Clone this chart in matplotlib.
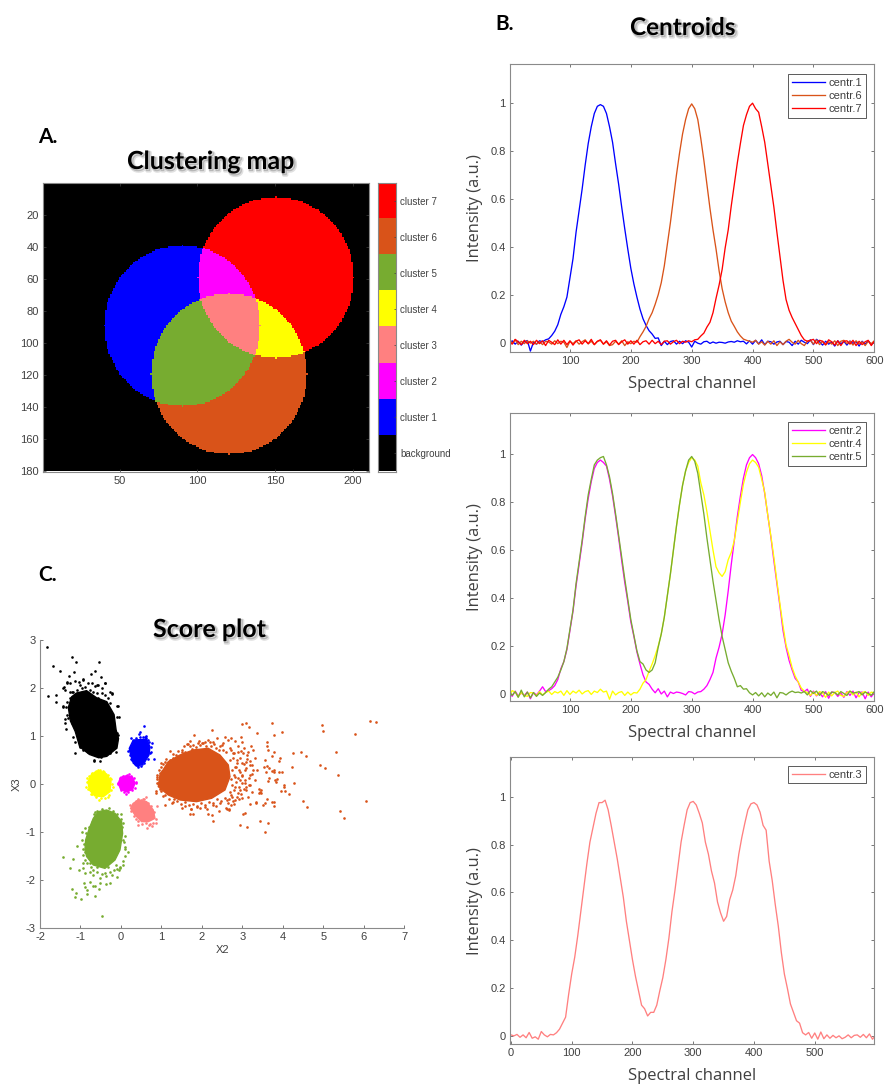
import numpy as np
import matplotlib
matplotlib.use('Agg')
import matplotlib.pyplot as plt
import matplotlib.patheffects as pe
from matplotlib.colors import ListedColormap

W, H = 885, 1084

BLUE = '#0000FF'
MAGENTA = '#FF00FF'
PINK = '#FF8080'
YELLOW = '#FFFF00'
GREEN = '#77AC30'
ORANGE = '#D95319'
RED = '#FF0000'

# ---- clustering map: the three discs (column, row, radius)
disc_blue = (90, 90, 50)
disc_red = (150, 60, 50)
disc_orange = (120, 120, 50)
map_cols = 210
map_rows = 180
cluster_labels = ['background', 'cluster 1', 'cluster 2', 'cluster 3',
                  'cluster 4', 'cluster 5', 'cluster 6', 'cluster 7']
cluster_colors = ['#000000', BLUE, MAGENTA, PINK, YELLOW, GREEN, ORANGE, RED]
map_xticks = [50, 100, 150, 200]
map_yticks = [20, 40, 60, 80, 100, 120, 140, 160, 180]

# ---- centroids, read every 5 channels
channels = list(range(0, 601, 5))

centr1 = [-.012, .008, -.006, .006, -.010, .004, .009, -.035, .002, -.006,
          .008, .004, .012, .016, .030, .048, .075, .118, .150, .190,
          .270, .350, .460, .550, .640, .740, .830, .900, .955, .985,
          .992, .985, .955, .900, .835, .745, .660, .565, .475, .390,
          .310, .245, .190, .140, .100, .072, .050, .036, .018, .020,
          -.012, .006, -.008, .005, .008, -.006, .006, -.004, .008, .002,
          -.018, .006, -.002, -.006, .004, .006, -.003, .003, -.002, .002,
          .001, -.002, .003, .005, .002, .008, .004, .006, -.005, .008,
          -.006, .010, -.005, .012, -.008, .006, .004, -.006, .003, .006,
          -.008, .005, .002, -.012, .006, -.006, .010, .002, -.004, .012,
          -.008, .014, .004, -.010, .006, -.006, .003, -.014, .008, -.005,
          .006, -.010, .007, -.003, .005, -.014, .006, -.006, .008, -.008,
          .004]
centr6 = [.018, -.004, .012, -.008, .006, -.004, .008, -.002, .006, -.006,
          .004, -.008, .006, .003, -.006, .008, -.004, .006, .002, -.020,
          .006, -.004, .008, -.006, .004, .012, -.005, .006, -.008, .005,
          .010, -.006, .004, -.012, -.008, .006, -.006, .008, -.012, .004,
          -.004, .006, .002, .025, .045, .068, .100, .125, .160, .200,
          .250, .320, .410, .500, .600, .700, .790, .870, .930, .975,
          .995, .975, .930, .850, .760, .660, .560, .470, .390, .300,
          .225, .170, .125, .090, .068, .045, .028, .015, .010, .006,
          .002, .010, -.006, .004, -.010, .006, -.006, .008, -.012, .004,
          -.008, .006, .014, .002, -.006, .010, -.004, -.012, .006, .010,
          -.006, .012, -.008, .006, -.010, .004, -.006, .008, -.012, .006,
          .010, -.004, .006, -.010, .008, -.006, .004, -.012, .006, -.004,
          .008]
centr7 = [.006, -.006, .014, .004, -.008, .010, -.004, .006, -.008, .010,
          -.004, .008, -.012, .010, .002, -.008, .012, -.006, .010, -.008,
          .008, -.010, .006, .012, -.006, .008, -.004, .014, -.008, .006,
          .012, -.006, .008, -.010, .006, .010, -.008, .004, .012, -.006,
          .008, -.006, .010, -.008, .004, .008, -.006, .010, -.004, .006,
          -.008, .006, .008, -.006, .004, .010, -.004, .006, .002, .008,
          .004, .012, .014, .028, .040, .065, .085, .125, .185, .240,
          .305, .395, .470, .570, .660, .750, .830, .905, .950, .985,
          .998, .975, .960, .900, .835, .745, .655, .565, .460, .360,
          .260, .180, .135, .105, .080, .055, .030, .012, .006, .010,
          .014, -.004, .010, .006, -.008, .012, .004, -.010, .008, -.012,
          .006, .008, -.006, .010, -.012, .006, -.008, .004, .010, -.012,
          .006]
centr2 = [.015, -.010, .012, -.008, .004, -.006, .008, -.020, .006, -.004,
          .012, .030, .010, .014, .022, .035, .060, .105, .135, .185,
          .265, .345, .450, .540, .630, .730, .815, .885, .940, .965,
          .975, .965, .950, .895, .825, .740, .650, .555, .465, .385,
          .300, .240, .175, .125, .080, .050, .040, .020, .005, .022,
          .000, .012, -.012, .008, .002, .008, .006, .002, -.004, .010,
          .008, .000, .008, .010, .020, .035, .060, .090, .150, .195,
          .250, .330, .430, .540, .640, .740, .825, .900, .955, .985,
          .998, .985, .960, .910, .835, .745, .655, .555, .460, .365,
          .265, .195, .140, .100, .065, .050, .015, .010, .020, -.010,
          .012, -.008, .006, -.012, .010, -.018, .008, .006, -.010, .004,
          -.014, .010, -.006, .012, -.016, .006, .008, -.020, .008, -.012,
          .006]
centr4 = [-.010, .014, .008, -.012, .006, -.006, -.010, .006, .004, -.008,
          .010, -.004, .006, .012, -.002, .010, .004, .012, -.006, .014,
          -.002, .012, .004, .016, .000, .010, .014, -.002, .012, .006,
          .020, .008, .012, -.022, .012, -.004, .006, .010, -.006, .008,
          -.004, .006, .004, .020, .045, .060, .095, .125, .160, .200,
          .250, .320, .410, .500, .600, .700, .790, .870, .930, .965,
          .985, .975, .950, .880, .830, .760, .680, .600, .530, .505,
          .490, .510, .560, .590, .640, .720, .800, .875, .925, .960,
          .975, .965, .945, .895, .840, .745, .660, .570, .470, .375,
          .285, .205, .160, .110, .075, .050, .025, .012, .006, -.006,
          .008, -.006, .010, .004, -.014, .008, -.008, .006, .012, -.006,
          -.010, .006, .012, -.004, .008, -.012, .006, .010, -.006, .008,
          .004]
centr5 = [.012, -.006, .010, -.014, .016, -.012, .008, -.016, .006, -.010,
          .004, -.006, .006, .020, .030, .050, .070, .100, .135, .190,
          .270, .350, .460, .550, .640, .740, .830, .895, .955, .975,
          .985, .990, .955, .905, .835, .750, .660, .570, .480, .395,
          .310, .245, .180, .135, .125, .100, .090, .100, .130, .195,
          .250, .320, .410, .500, .600, .700, .790, .870, .930, .975,
          .990, .970, .920, .835, .750, .650, .560, .470, .390, .310,
          .240, .185, .130, .095, .065, .030, .035, .020, .022, .005,
          -.004, .006, -.008, .005, -.012, .004, -.006, .008, -.016, .006,
          .004, -.004, .006, .012, .006, .008, .004, .010, -.004, .014,
          .002, .012, -.006, .010, .004, -.006, .008, .006, -.004, .010,
          .002, -.006, .012, .004, .006, .010, -.004, .008, .002, -.006,
          .010]
centr3 = [.006, .002, .008, -.004, .006, -.006, .016, -.008, -.002, -.012,
          .020, .006, -.002, .008, .006, .015, .030, .055, .080, .175,
          .260, .330, .420, .520, .620, .720, .810, .870, .930, .975,
          .975, .985, .945, .880, .810, .740, .660, .580, .480, .400,
          .320, .250, .190, .130, .115, .085, .100, .100, .130, .190,
          .245, .320, .410, .520, .610, .710, .810, .880, .945, .975,
          .980, .965, .930, .890, .810, .760, .690, .640, .560, .515,
          .480, .500, .570, .610, .670, .760, .830, .890, .945, .970,
          .975, .965, .935, .880, .860, .730, .650, .550, .460, .350,
          .260, .200, .135, .100, .065, .055, .015, .006, .016, -.008,
          .014, -.012, .018, -.010, .006, -.008, .004, -.006, .002, -.010,
          -.004, .006, -.006, .004, .006, -.004, .008, -.006, .010, -.012,
          .004]
intensity_ticks = [0, 0.2, 0.4, 0.6, 0.8, 1]
intensity_labels = ['0', '0.2', '0.4', '0.6', '0.8', '1']
channel_ticks = [100, 200, 300, 400, 500, 600]
channel_ticks_c3 = [0, 100, 200, 300, 400, 500]

# ---- score plot: outline of each solid core, then the stray points around it
black_core_x = [-1.10, -.85, -.60, -.35, -.17, -.12, -.06, -.10, -.35, -.55, -.78, -1.02, -1.13, -1.25, -1.30, -1.22]
black_core_y = [1.90, 1.95, 1.80, 1.72, 1.45, 1.13, .95, .75, .58, .55, .62, .78, 1.10, 1.32, 1.60, 1.82]
black_x = [-1.83, -1.21, -.54, -1.10, -1.67, -1.51, -1.15, -.64, -.74, -.49, -1.28, -1.80, -1.61, -1.61, -1.42, -1.34, -1.38,
           -.07, -.06, -.11, -1.14, -.67, -.52, -.21, -.40, -.93, -1.34, -1.42, -1.21, -1.01, -.60, -.27,
           -1.342, -1.260, -1.136, -1.029, -.930, -.823, -.725, -.642, -.560, -.478, -.395, -.231, -1.408, -1.392,
           -1.260, -1.178, -1.095, -.972, -.889, -.766, -.683, -.601, -.478, -.395, -.313, -.272, -1.260, -1.326,
           -1.359, -1.425, -1.276, -1.194, -1.013, -1.383, -1.301, -1.359, -1.219, -1.178, -1.136, -1.013, -.930,
           -.807, -.659, -.502, -.272, -.124, -.066, -.148, -.091, -.091, -.189, -1.054, -.848, -.560]
black_y = [2.85, 2.66, 2.54, 2.54, 2.46, 2.36, 2.33, 2.37, 2.30, 2.23, 2.26, 1.83, 1.86, 1.71, 1.62, 1.44, 1.27,
           1.62, 1.39, 1.06, .64, .50, .48, 1.89, 2.10, 2.17, 2.10, 2.0, 1.93, 2.07, 2.07, 1.93,
           2.138, 2.117, 2.152, 2.138, 2.187, 2.103, 2.117, 2.048, 2.068, 1.999, 2.103, 1.895, 2.034, 1.964,
           1.929, 1.929, 1.964, 1.999, 2.034, 1.964, 1.929, 1.895, 1.895, 1.860, 1.790, 1.686, 1.790, 1.721,
           1.617, 1.617, 1.617, 1.825, 1.895, 1.352, 1.373, 1.144, 1.269, .991, .886, .782, .713,
           .678, .490, .574, .643, .678, 1.026, 1.060, 1.394, 1.630, 1.199, 1.825, 1.895, 1.790]

blue_core_x = [.305, .634, .716, .692, .593, .428, .305, .239, .206]
blue_core_y = [.921, .935, .782, .608, .469, .365, .435, .608, .747]
blue_x = [.568, .469, .436, .618, .823, .766, .733, .181, .247, .68, .36, .52, .27, .60,
          .22, .25, .30, .38, .46, .54, .62, .70, .74, .72, .66, .58, .50, .42, .34, .26]
blue_y = [1.22, 1.095, 1.046, 1.005, .518, .852, .678, .699, .956, .92, .39, .43, .50, .99,
          .60, .80, .90, .96, .98, .98, .96, .88, .78, .64, .52, .44, .38, .36, .42, .52]

yellow_core_x = [-.543, -.354, -.247, -.272, -.436, -.642, -.782, -.815, -.724]
yellow_core_y = [.282, .212, .052, -.157, -.261, -.247, -.122, .052, .212]
yellow_x = [-.56, -.83, -.543, -.206, -.865, -.313, -.72, -.45, -.65, -.24,
            -.85, -.80, -.72, -.62, -.52, -.42, -.32, -.26, -.22, -.24, -.30, -.40, -.50, -.62, -.74, -.82]
yellow_y = [.295, .12, -.33, -.052, -.05, -.275, -.20, .27, .26, .10,
            .05, .17, .24, .28, .30, .26, .20, .12, .00, -.12, -.22, -.28, -.29, -.27, -.20, -.10]

magenta_core_x = [.14, .288, .346, .288, .14, -.008, -.066, -.008]
magenta_core_y = [.177, .143, .017, -.108, -.163, -.108, .017, .143]
magenta_x = [.19, .12, -.074, .37, -.07, -.03, .05, .15, .25, .32, .36, .34, .28, .18, .08, .0]
magenta_y = [.21, -.205, 0, .05, .03, .12, .17, .19, .17, .12, .02, -.07, -.13, -.17, -.16, -.12]

pink_core_x = [.428, .634, .799, .840, .675, .511, .346, .239, .305]
pink_core_y = [-.330, -.365, -.539, -.713, -.782, -.782, -.643, -.504, -.400]
pink_x = [.61, .88, .634, .43, .865, .22, .76, .55, .37, .70,
          .30, .36, .42, .50, .58, .66, .74, .82, .86, .80, .72, .62, .52, .42, .32, .26]
pink_y = [-.275, -.45, -.92, -.85, -.817, -.435, -.87, -.30, -.72, -.85,
          -.42, -.35, -.30, -.33, -.32, -.40, -.46, -.58, -.72, -.80, -.84, -.82, -.84, -.76, -.66, -.55]

green_core_x = [-.848, -.683, -.395, -.148, -.025, .041, .016, -.148, -.354, -.56, -.683, -.782, -.873, -.889]
green_core_y = [-1.51, -1.686, -1.756, -1.582, -1.373, -1.026, -.782, -.608, -.539, -.574, -.713, -.921, -1.165, -1.373]
green_x = [-.478, -1.425, -1.186, -1.268, -1.079, -1.21, -1.112, -1.128, -.988, -.848, -.889, -.848, -.642, -.552,
           -.922, -.70, -.766, -.642, -.519, -.371, -.272, -1.029, -.931, -.889, -.766, -.683, -.519, -.395, -.231,
           -.107, -.025, .041, -.124, .173, .107, .107, .058, .041, -.008, -.642, -.725, -.972, -.889, -.955, -.889,
           -.931, -.782, -.601, -.313, -.766,
           -.66, -.58, -.47, -.30, -.20, -.09, .0, .03, .07, .10, .09, .05, -.02, -.80, -.86, -.92, -.95, -.93, -.90,
           -.83, -.75, -.68, -.58, -.48, -.38, -.28, -.18, -.10, -.04]
green_y = [-2.743, -1.512, -1.554, -1.742, -1.283, -2.187, -2.263, -2.36, -2.403, -2.298, -2.152, -2.208, -2.326, -2.193,
           -2.068, -2.124, -2.034, -2.124, -2.068, -2.082, -2.068, -1.79, -1.755, -1.846, -1.825, -1.895, -1.964, -1.86,
           -1.895, -1.943, -1.755, -1.686, -1.686, -1.422, -1.318, -1.074, -1.165, -.817, -.622, -.574, -.782, -1.005,
           -.921, -1.165, -1.408, -1.637, -1.547, -1.72, -1.735, -1.651,
           -.62, -.55, -.52, -.50, -.56, -.62, -.72, -.90, -1.2, -1.35, -1.5, -1.6, -1.72, -.90, -1.02, -1.25, -1.35,
           -1.48, -1.58, -1.65, -1.72, -1.78, -1.84, -1.88, -1.92, -1.84, -1.80, -1.76, -1.80]

orange_core_x = [.963, 1.169, 1.458, 1.787, 2.157, 2.446, 2.652, 2.693, 2.569, 2.240, 1.869, 1.458, 1.169, .922]
orange_core_y = [.191, .469, .608, .713, .747, .608, .400, .156, -.122, -.295, -.365, -.330, -.226, -.052]
orange_x = [6.16, 6.29, 5.77, 4.97, 5.00, 3.73, 2.99, 3.10, 3.16, 3.35, 3.78, 3.97, 2.26, 1.80, 5.31, 4.26, 4.45, 4.57,
            4.92, 5.05, 5.37, 4.23, 4.27, 4.04, 4.02, 4.14, 3.95, 4.06, 4.50, 4.60, 6.05, 5.40, 5.51, 3.57, 3.63, 3.43,
            3.12, 2.95, 3.06, 3.02, 2.28, 1.79, 1.71, 1.73, 2.16, 2.26, 2.41, 2.61, 2.68, 3.78, 3.72, 3.78, 3.50, 3.57,
            3.62, 3.33, 3.33, 3.19, 3.41, 3.45, 3.43, 3.41, 3.47, 3.81, 3.85, 3.83, 3.64, 3.66, 3.97, 3.90, 3.79, 3.79,
            3.72, 3.60, 3.53, 3.66, 3.58, 3.91, 3.93, 3.78, 3.73, 3.64, 3.60, 3.60, 3.56, 3.31, 3.21, 2.96, 3.0, 2.81,
            2.73, 2.64, 2.57, 2.38, 1.66, 1.22, 1.09, 2.77, 2.9, 3.02, 3.15, 3.27, 2.86, 2.98, 3.1, 3.23, 3.35, 2.82,
            2.94, 3.06, 3.19, 3.31, 2.82, 2.94, 3.06, 3.19, 2.82, 2.94, 3.10, 3.23, 2.73, 2.86, 2.98, 3.15, 2.61, 2.45,
            2.28, 2.08, 1.87, 1.58, 1.25, 1.09, 1.05, .87, .86, 2.2, 2.03, 1.91, 2.53, 2.49, 2.69, 1.5, 1.75, 1.29, .96,
            .88, .88,
            2.72, 2.80, 2.88, 2.96, 3.04, 3.12, 2.70, 2.78, 2.86, 2.95, 3.03, 3.11, 3.20, 2.75, 2.84, 2.92, 3.00, 3.09,
            3.18, 3.26, 2.72, 2.80, 2.90, 2.98, 3.07, 3.16, 3.24, 2.74, 2.83, 2.91, 3.00, 3.08, 3.17, 2.70, 2.79, 2.88,
            2.97, 3.05, 2.66, 2.74, 2.82, 2.91, 2.64, 2.72, 2.80, 2.60, 2.68, 2.76,
            1.05, 1.12, 1.20, 1.28, 1.36, 1.42, 1.50, 1.58, 1.62, 1.70, 1.78, 1.85, 1.92, 2.0, 2.08, 2.15, 2.22, 2.30,
            2.36, 2.44, 2.52, 2.60, 1.55, 1.70, 1.95, 2.10, 2.28, 2.42,
            1.0, 1.08, 1.18, 1.28, 1.38, 1.48, 1.58, 1.68, 1.78, 1.88, 1.98, 2.08, 2.18, 2.28, 2.38, 2.48, 2.56, 1.30,
            1.52, 1.72, 1.95, 2.12, 2.34,
            .88, .90, .95, .92, .98, 1.02, .96, 1.0]
orange_y = [1.317, 1.29, 1.04, 1.234, 1.10, 1.27, 1.255, 1.276, 1.19, 1.067, 1.03, 1.08, 1.12, 1.03, .664, .657, .678, .58,
            .393, .33, .198, .358, .017, -.017, -.052, -.212, -.15, -.143, -.351, -.469, -.358, -.553, -.699, -.998, -.803,
            -.768, -.886, -.859, -.601, -.63, -.775, -.615, -.615, -.525, -.622, -.65, -.56, -.525, -.532, -.379, -.365,
            -.456, -.442, -.40, -.302, -.40, -.365, -.407, -.108, -.122, -.157, -.177, -.177, .087, .10, .038, .066, .122,
            .26, .26, .247, .295, .274, .386, .365, .33, .26, .476, .553, .664, .58, .706, .796, .88, .504, .539, .803, .99,
            .886, .907, .956, .921, .977, .956, .838, .685, .455, .643, .678, .643, .678, .713, .504, .435, .469, .4, .295,
            .365, .26, .295, .191, .087, .156, .087, .017, -.017, -.052, -.122, -.122, -.157, -.226, -.26, -.295, -.26,
            -.33, -.4, -.435, -.469, -.483, -.455, -.4, -.435, -.247, -.191, -.136, .886, .866, .852, .852, .817, .747,
            .664, .727, .539, .24, .156, .017,
            .72, .65, .80, .70, .76, .60, .50, .55, .44, .55, .42, .52, .48, .30, .36, .30, .20, .33,
            .40, .30, .10, .20, .12, .18, .08, .12, .22, -.02, .04, -.05, .02, -.06, -.02, -.16, -.12, -.18,
            -.20, -.10, -.30, -.26, -.34, -.30, -.40, -.44, -.42, -.50, -.52, -.36,
            .42, .52, .50, .62, .60, .70, .72, .68, .84, .80, .82, .78, .90, .86, .88, .92, .80, .84,
            .76, .80, .72, .68, .80, .90, .82, .80, .88, .72,
            -.15, -.22, -.30, -.38, -.36, -.42, -.38, -.44, -.42, -.46, -.40, -.44, -.38, -.40, -.32, -.36, -.28, -.30,
            -.50, -.52, -.50, -.52, -.46,
            .10, .20, .30, .02, .36, .28, -.10, .44]
score_xticks = [-2, -1, 0, 1, 2, 3, 4, 5, 6, 7]
score_yticks = [-3, -2, -1, 0, 1, 2, 3]

plt.rcParams['font.family'] = ['Liberation Sans', 'DejaVu Sans']
plt.rcParams['axes.unicode_minus'] = False
GREY = '#404040'
FRAME = '#8a8a8a'
HEAD_FONT = ['Lato', 'DejaVu Sans']
LABEL_FONT = ['Open Sans', 'DejaVu Sans']


def axes_px(fig, x0, y0, x1, y1):
    return fig.add_axes([x0 / W, 1 - y1 / H, (x1 - x0) / W, (y1 - y0) / H])


def style_axes(ax, box=True):
    for side in ax.spines:
        ax.spines[side].set_color(FRAME)
        ax.spines[side].set_linewidth(0.8)
    if not box:
        ax.spines['top'].set_visible(False)
        ax.spines['right'].set_visible(False)
    ax.tick_params(direction='in', length=2.2, width=0.5, color=GREY, labelcolor=GREY,
                   labelsize=8, top=box, right=box, pad=3)


def head(fig, x, y, text, size, shadow=True):
    t = fig.text(x / W, 1 - y / H, text, fontsize=size, fontweight='bold', family=HEAD_FONT,
                 color='black', ha='left', va='baseline')
    if shadow:
        t.set_path_effects([pe.SimpleLineShadow(offset=(1.4, -1.4), alpha=0.12, linewidth=2.4, shadow_color='black'),
                            pe.SimpleLineShadow(offset=(1.0, -1.0), alpha=0.18, linewidth=1.0, shadow_color='black'),
                            pe.Normal()])


def centroid_panel(fig, y0, y1, ylim, xlim, xticks, series, colors, names, legend_top):
    ax = axes_px(fig, 509.7, y0, 874.3, y1)
    for vals, col, name in zip(series, colors, names):
        ax.plot(channels, vals, color=col, linewidth=0.95, label=name)
    ax.set_xlim(xlim)
    ax.set_ylim(ylim)
    ax.set_xticks(xticks)
    ax.set_yticks(intensity_ticks)
    ax.set_yticklabels(intensity_labels)
    style_axes(ax)
    ax.set_xlabel('Spectral channel', fontsize=12, family=LABEL_FONT, color=GREY, labelpad=7)
    ax.set_ylabel('Intensity (a.u.)', fontsize=11.8, family=LABEL_FONT, color=GREY, labelpad=5.5)
    leg = ax.legend(loc='upper right', bbox_to_anchor=(865.7 / W, 1 - legend_top / H),
                    bbox_transform=fig.transFigure, fontsize=8, fancybox=False, framealpha=1,
                    edgecolor='#404040', handlelength=3.0, handletextpad=0.25, labelspacing=0.28,
                    borderpad=0.35, borderaxespad=0)
    leg.get_frame().set_linewidth(0.6)
    for text in leg.get_texts():
        text.set_color(GREY)
    return ax


fig = plt.figure(figsize=(W / 100, H / 100), dpi=100)

# A. clustering map
ax_map = axes_px(fig, 42.7, 183.3, 369, 471.5)
cc, rr = np.meshgrid(np.arange(1, map_cols + 1), np.arange(1, map_rows + 1))
in_disc = lambda d: (cc - d[0]) ** 2 + (rr - d[1]) ** 2 <= d[2] ** 2
code = in_disc(disc_blue) * 1 + in_disc(disc_red) * 2 + in_disc(disc_orange) * 4
cluster_of_code = np.array([0, 1, 7, 2, 6, 5, 4, 3])
cluster_map = cluster_of_code[code]
cmap = ListedColormap(cluster_colors)
ax_map.imshow(cluster_map, cmap=cmap, vmin=-0.5, vmax=7.5, interpolation='nearest', aspect='auto',
              extent=(0.5, map_cols + 0.5, map_rows + 0.5, 0.5))
ax_map.set_xticks(map_xticks)
ax_map.set_yticks(map_yticks)
style_axes(ax_map)

ax_bar = axes_px(fig, 377.7, 183.3, 395.7, 471.5)
ax_bar.imshow(np.arange(8)[::-1].reshape(-1, 1), cmap=cmap, vmin=-0.5, vmax=7.5, aspect='auto',
              interpolation='nearest', extent=(0, 1, 0, 8))
ax_bar.set_xticks([])
ax_bar.set_yticks(np.arange(8) + 0.5)
ax_bar.set_yticklabels(cluster_labels)
for side in ax_bar.spines:
    ax_bar.spines[side].set_color(FRAME)
    ax_bar.spines[side].set_linewidth(0.8)
ax_bar.yaxis.tick_right()
ax_bar.tick_params(axis='y', direction='in', length=1.5, width=0.5, color=GREY, labelcolor=GREY,
                   labelsize=7, pad=3.2)

# B. centroids
centroid_panel(fig, 64.3, 352.3, (-0.04, 1.16), (1, 600), channel_ticks, [centr1, centr6, centr7],
               [BLUE, ORANGE, RED], ['centr.1', 'centr.6', 'centr.7'], 73.7)
centroid_panel(fig, 413.3, 700.7, (-0.028, 1.17), (1, 600), channel_ticks, [centr2, centr4, centr5],
               [MAGENTA, YELLOW, GREEN], ['centr.2', 'centr.4', 'centr.5'], 422)
centroid_panel(fig, 757.3, 1044, (-0.032, 1.164), (-2, 598), channel_ticks_c3, [centr3],
               [PINK], ['centr.3'], 765.7)

# C. score plot
ax_score = axes_px(fig, 40, 640.3, 404.3, 928)
clusters = [(black_core_x, black_core_y, black_x, black_y, 'black'),
            (blue_core_x, blue_core_y, blue_x, blue_y, BLUE),
            (yellow_core_x, yellow_core_y, yellow_x, yellow_y, YELLOW),
            (magenta_core_x, magenta_core_y, magenta_x, magenta_y, MAGENTA),
            (pink_core_x, pink_core_y, pink_x, pink_y, PINK),
            (green_core_x, green_core_y, green_x, green_y, GREEN),
            (orange_core_x, orange_core_y, orange_x, orange_y, ORANGE)]
for core_x, core_y, xs, ys, col in clusters:
    ax_score.fill(core_x, core_y, color=col, linewidth=1.0)
    ax_score.scatter(xs, ys, s=3.6, color=col, linewidths=0)
ax_score.set_xlim(-2, 7)
ax_score.set_ylim(-3, 3)
ax_score.set_xticks(score_xticks)
ax_score.set_yticks(score_yticks)
style_axes(ax_score, box=False)
ax_score.set_xlabel('X2', fontsize=8, color=GREY, labelpad=2)
ax_score.set_ylabel('X3', fontsize=8, color=GREY, labelpad=3)

head(fig, 127, 169, 'Clustering map', 18)
head(fig, 630, 35, 'Centroids', 17.5)
head(fig, 153, 637, 'Score plot', 18)
head(fig, 38, 143, 'A.', 15, shadow=False)
head(fig, 495, 30, 'B.', 15, shadow=False)
head(fig, 38, 581, 'C.', 15, shadow=False)

plt.savefig('out.png', dpi=100)
